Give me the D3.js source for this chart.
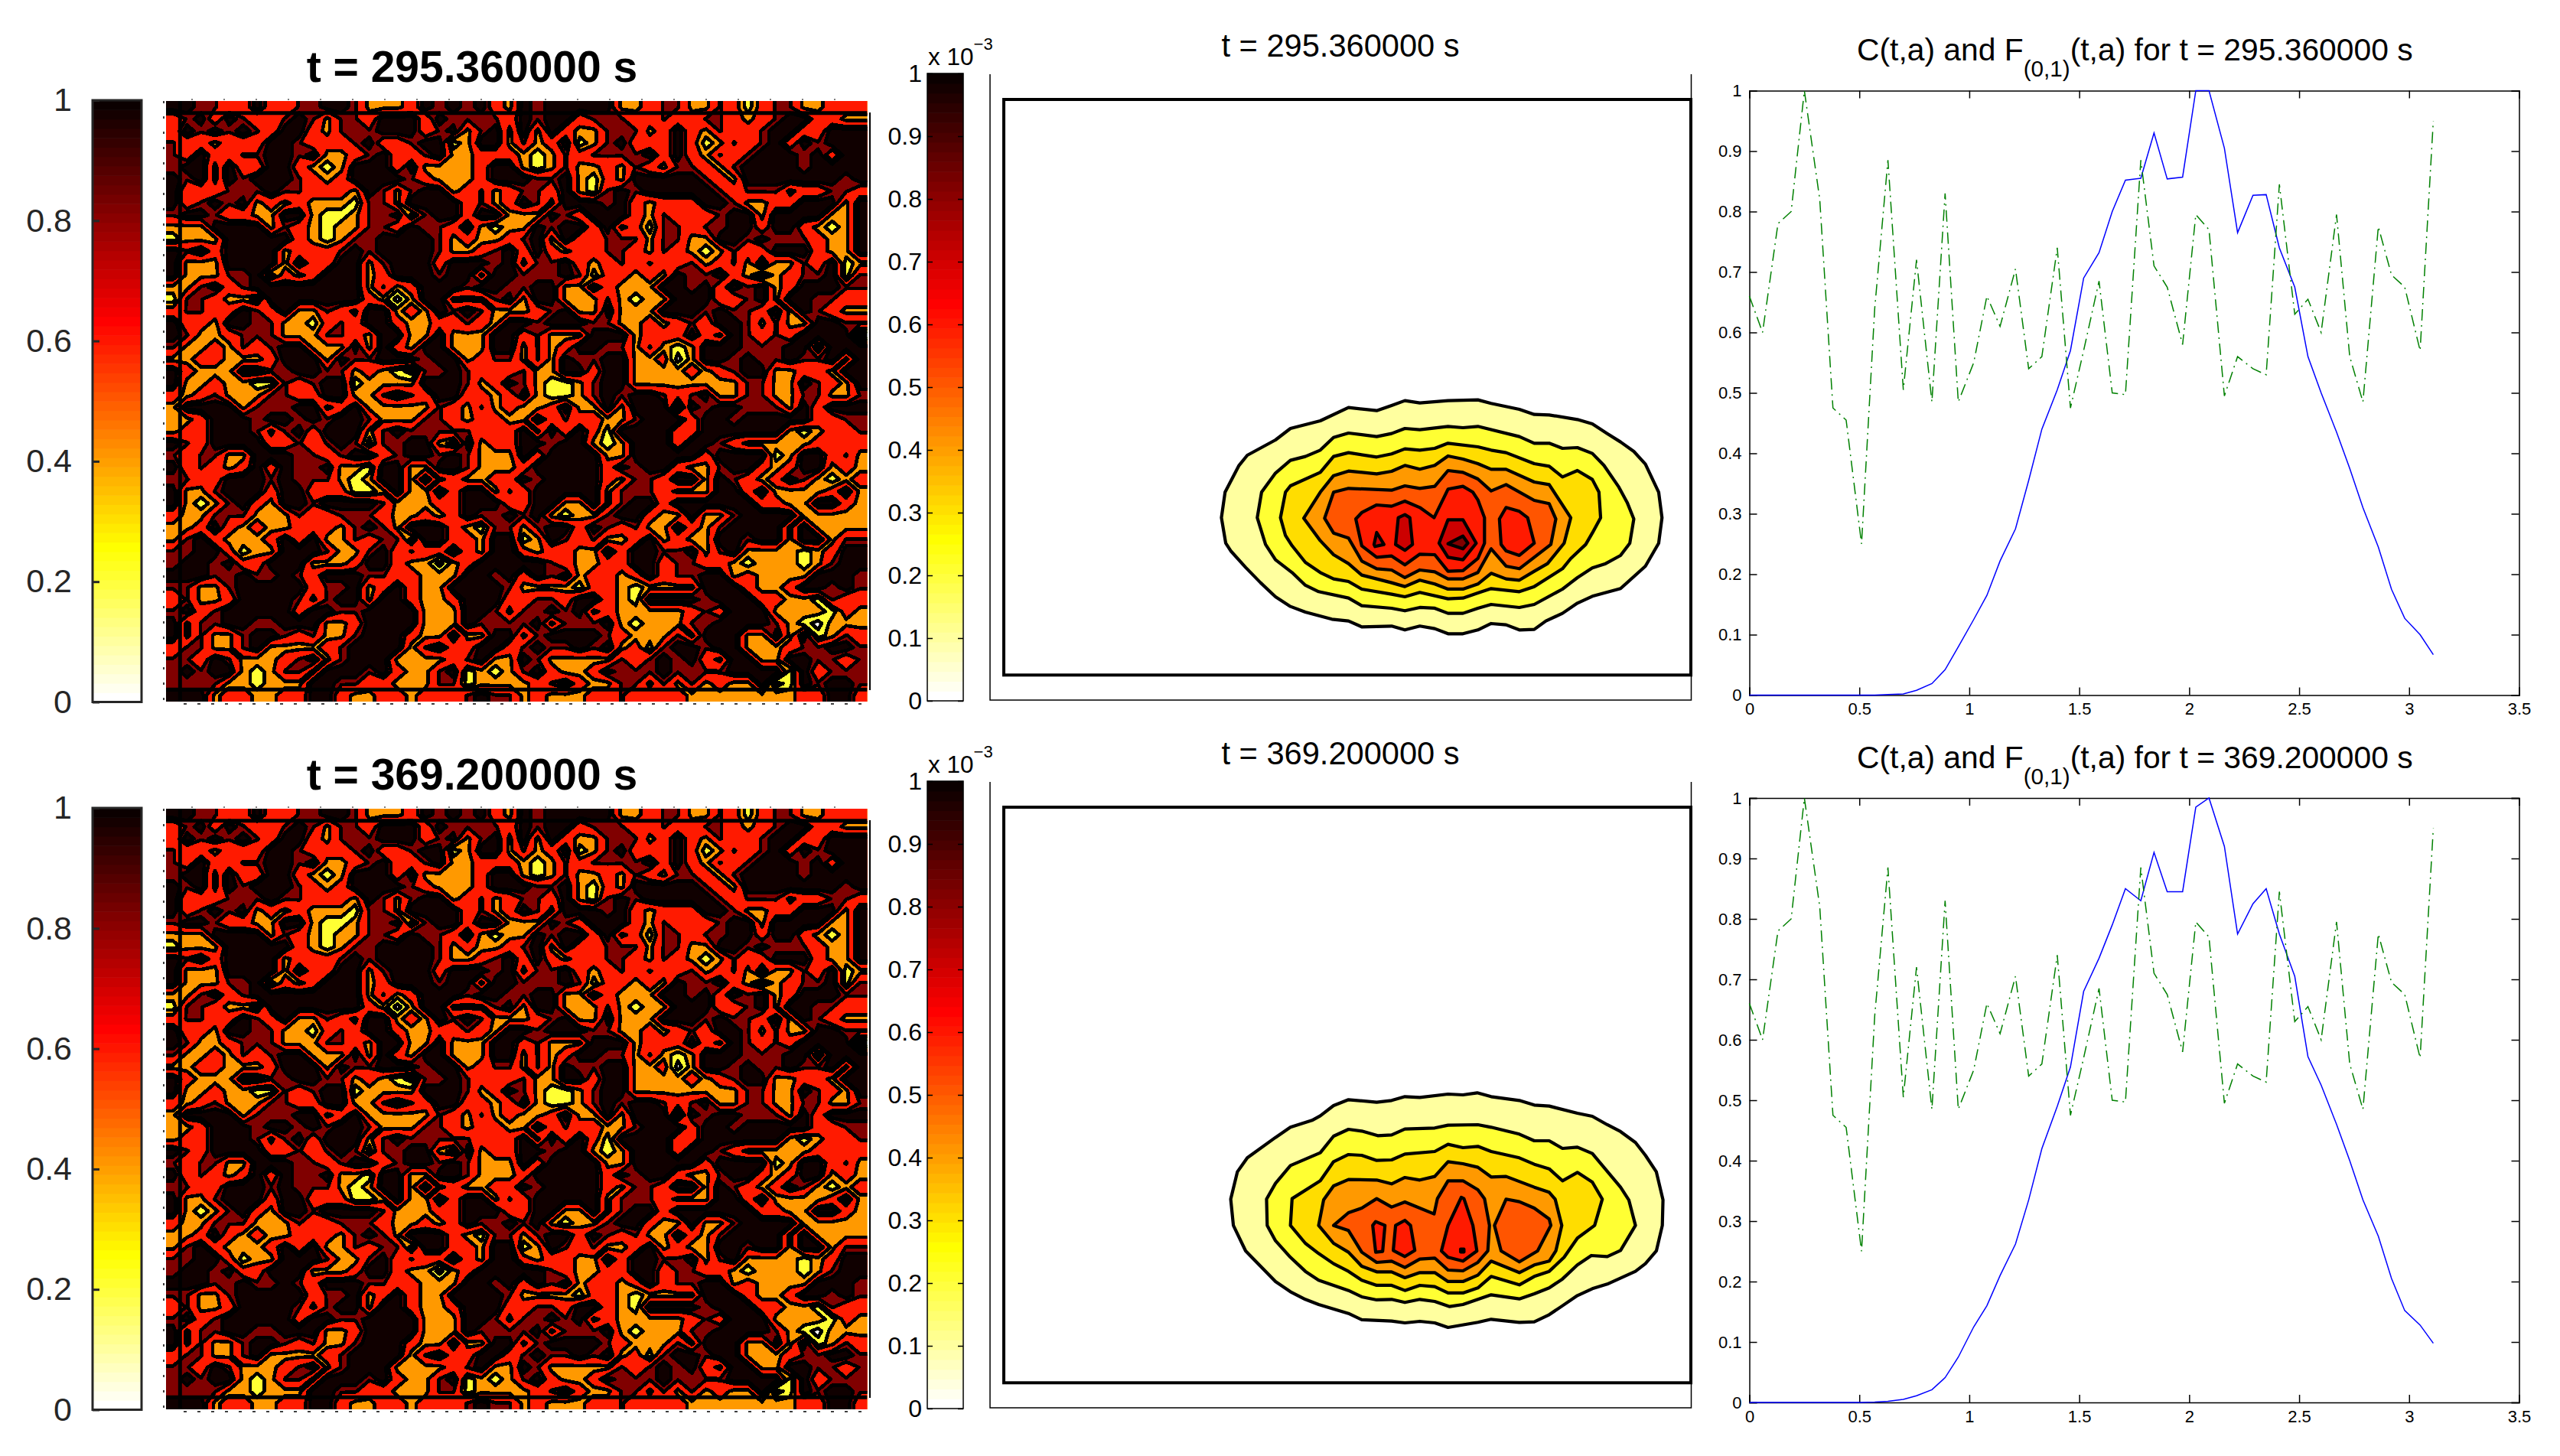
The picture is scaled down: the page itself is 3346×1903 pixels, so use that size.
<!DOCTYPE html>
<html><head><meta charset="utf-8">
<script src="https://cdn.jsdelivr.net/npm/d3@7"></script>
<style>
html,body{margin:0;padding:0;background:#fff}
svg{display:block}
text{font-family:"Liberation Sans",Arial,sans-serif}
</style></head><body>
<svg id="fig" width="3346" height="1903" xmlns="http://www.w3.org/2000/svg"></svg>
<script>
// ---------- data ----------
const timesLabel = ["295.360000", "369.200000"];
const colorbarTicksCoarse = [0, 0.2, 0.4, 0.6, 0.8, 1];
const colorbarTicksFine = [0, 0.1, 0.2, 0.3, 0.4, 0.5, 0.6, 0.7, 0.8, 0.9, 1];
const lineXTicks = [0, 0.5, 1, 1.5, 2, 2.5, 3, 3.5];
const lineYTicks = [0, 0.1, 0.2, 0.3, 0.4, 0.5, 0.6, 0.7, 0.8, 0.9, 1];

const ages = [0.00,0.06,0.13,0.19,0.25,0.32,0.38,0.44,0.51,0.57,0.63,0.70,0.76,0.83,0.89,0.95,1.02,1.08,1.14,1.21,1.27,1.33,1.40,1.46,1.52,1.59,1.65,1.71,1.78,1.84,1.90,1.97,2.03,2.09,2.16,2.22,2.29,2.35,2.41,2.48,2.54,2.60,2.67,2.73,2.79,2.86,2.92,2.98,3.05,3.11];
const seriesF = [0.66,0.60,0.78,0.80,1.00,0.82,0.475,0.455,0.25,0.64,0.885,0.505,0.72,0.485,0.83,0.485,0.55,0.66,0.61,0.705,0.54,0.56,0.74,0.475,0.57,0.685,0.50,0.497,0.885,0.71,0.675,0.58,0.795,0.77,0.495,0.56,0.54,0.53,0.845,0.63,0.655,0.60,0.795,0.56,0.485,0.775,0.695,0.675,0.57,0.95];
const seriesC295 = [0,0,0,0,0,0,0,0,0,0,0.001,0.002,0.008,0.019,0.042,0.08,0.125,0.165,0.222,0.275,0.355,0.44,0.505,0.57,0.69,0.732,0.80,0.852,0.855,0.93,0.854,0.857,1.0,1.0,0.905,0.765,0.827,0.828,0.74,0.675,0.56,0.50,0.435,0.375,0.31,0.245,0.175,0.127,0.10,0.067];
const seriesC369 = [0,0,0,0,0,0,0,0,0,0.0005,0.002,0.005,0.011,0.021,0.041,0.075,0.125,0.16,0.21,0.262,0.335,0.42,0.49,0.555,0.68,0.735,0.79,0.85,0.83,0.91,0.845,0.845,0.985,1.0,0.92,0.775,0.825,0.85,0.775,0.705,0.572,0.525,0.46,0.40,0.335,0.275,0.205,0.152,0.128,0.098];

// band index per grid node (1 lowest .. 6 highest), read row by row
const noiseRows = [
"6655446445566533346565643"+"6566666334553354245533444",
"4564654456535546664655554"+"6566455544544554345664433",
"4656565466435556664563563"+"6364335553464354456644666",
"5443444665444564456623663"+"5346235644464235456465666",
"5464455665633456445633444"+"3235455556464354566656466",
"5663644664323666463333466"+"3235334354355435666656666",
"6563656665434666654333466"+"6556324366666543666666656",
"6444555655444365356634534"+"5546325656666654555344554",
"6456563434333255366664534"+"6536665643444665334466636",
"5665443366322355625664663"+"3365466643544456636666336",
"3336666354323355465546323"+"3656646342554556646643236",
"2333666664323556666534334"+"5636445553553366565554336",
"6564666634445656666533456"+"4643445543543235446664336",
"6333666636446635666466656"+"3556434545445345363354623",
"6333556243466634666566366"+"5556524434365564313455625",
"3356456666666635346665665"+"5663364333665646563466655",
"2554332666666643136633356"+"3663335323366644563665544",
"4554465463354366343656533"+"3456336333666565546365433",
"6443665533245466433445436"+"6566655334345466535336655",
"6533455533355436633633366"+"4533366634446436545466661",
"5334354566333636436633366"+"3534665535323666555662666",
"3344333466636556665663455"+"3536556633413665655655636",
"6433366556655343215565444"+"5336646633334345663344366",
"6334332254566233336665346"+"5322356633333333553365436",
"4345333554466335654664434"+"6322356566545633553355335",
"3666635556634633333543534"+"3346336366616566555364666",
"3346665665656653335543443"+"3645443356664665666664455",
"3446665356466635655555444"+"6364642666644666666323445",
"6546666445456525566326344"+"6656632366646654333334444",
"5455336665545664566565333"+"6466663366666466662366453",
"6454346465563326633665333"+"4666664656643356643466343",
"5544666565553236636343344"+"6566664355466365434653234",
"6335666466444223633646635"+"4666663555433366463333463",
"6323564366566665333446664"+"4663363566466666644336643",
"4335553335445554334346556"+"5632335664336335666633333",
"3346434334443565366643255"+"3566465453364356666363333",
"3564333464633545526644366"+"2365453346343366566366355",
"5566423366653356454464366"+"4344336466556356333323466",
"5665644666333466433134666"+"6654334466455443233323566",
"6665565565466655443336656"+"4656344346455663433336665",
"5533566666455634643366665"+"3333244323333666433466565",
"4533466665356636643346664"+"4554664326666566644332544",
"5645666664665566663336653"+"5565634333334546663333243",
"6355665566633466663336555"+"5635556323335566665321333",
"6353356654533566643363366"+"3566665433353666336362354",
"4553356333345666635644664"+"5655656342566566333455665",
"5546533345635666333345633"+"6533333545656436633665545",
"5656632355366656433562323"+"5643346555655556666264555",
"5555332333665544333552333"+"3456433553535343361265665",
"6663443344664334434445655"+"3433344544443333333344664"
];
const bandFills = ["#ffff33","#ff9900","#ff1a00","#800000","#100000"];
const bandThresholds = [1.5,2.5,3.35,4.9,5.5];
const gridStrips = [1,49];

// contour outlines: [a, h] in the blob plot's own axis units, per level
const levelFills = ["#ffff9f","#ffff33","#ffdd00","#ff9900","#ff5500","#ff1a00","#cc0000","#800000"];
const blobDomainX = [-549,1522];
const blobDomainY = [-1050,1207];
const levels295 = [
 [[[660,131],[705,140],[790,131],[880,128],[920,142],[1005,165],[1050,185],[1095,187],[1180,205],[1225,222],[1270,260],[1310,293],[1350,330],[1385,380],[1425,490],[1435,590],[1425,690],[1385,780],[1310,868],[1225,898],[1180,925],[1135,965],[1085,995],[1050,1028],[1005,1030],[965,1010],[920,1005],[880,1030],[835,1045],[790,1045],[750,1025],[705,1015],[660,1030],[620,1015],[530,1018],[490,995],[440,988],[360,960],[315,938],[270,900],[225,845],[180,785],[135,720],[120,690],[107,590],[118,490],[160,385],[185,345],[270,285],[315,240],[405,210],[490,158],[575,170],[620,150]]],
 [[[660,240],[705,245],[790,232],[835,237],[880,232],[1005,272],[1050,298],[1095,298],[1135,318],[1180,315],[1225,338],[1260,385],[1305,470],[1330,530],[1350,595],[1338,690],[1310,738],[1265,770],[1225,787],[1180,825],[1135,870],[1050,930],[1005,942],[920,930],[880,945],[835,965],[790,965],[750,945],[705,942],[660,955],[620,945],[530,935],[490,905],[400,880],[360,855],[320,805],[270,755],[240,695],[215,590],[228,490],[270,415],[315,365],[360,350],[405,325],[445,275],[490,258],[575,272],[620,260]]],
 [[[660,320],[705,325],[750,318],[790,298],[880,312],[920,325],[965,335],[1050,378],[1095,388],[1135,430],[1180,405],[1225,440],[1245,490],[1250,590],[1225,650],[1205,695],[1160,750],[1135,790],[1050,860],[1005,880],[920,868],[880,885],[835,905],[790,908],[705,883],[660,900],[620,890],[530,870],[490,840],[445,830],[405,805],[360,765],[320,700],[300,660],[285,590],[300,490],[315,465],[405,412],[445,350],[490,335],[575,352],[620,340]]],
 [[[660,385],[705,400],[750,385],[790,348],[835,360],[880,378],[920,400],[965,400],[1050,450],[1095,460],[1130,530],[1160,590],[1140,690],[1090,770],[1050,800],[1005,835],[965,830],[920,808],[880,850],[835,870],[790,870],[750,850],[705,835],[660,860],[620,845],[530,815],[490,770],[445,735],[405,680],[355,592],[405,490],[445,425],[490,407],[575,418],[620,408]]],
 [[[445,490],[490,475],[620,482],[660,465],[705,475],[750,467],[790,405],[835,412],[880,438],[920,485],[965,460],[1050,522],[1095,535],[1115,595],[1100,695],[1050,745],[1005,790],[965,780],[920,712],[880,805],[835,830],[790,830],[750,802],[705,795],[660,825],[620,795],[575,790],[530,760],[490,670],[445,650],[418,592]]],
 [[[575,540],[620,545],[660,525],[705,550],[748,590],[790,478],[835,467],[865,490],[880,520],[900,590],[900,690],[880,750],[835,798],[790,800],[750,735],[705,733],[660,775],[620,740],[575,745],[530,700],[512,595],[530,570]],
  [[965,550],[1005,565],[1030,590],[1050,690],[1005,738],[965,720],[950,695],[945,595]]],
 [[[575,648],[597,695],[570,703],[567,695]],
  [[660,578],[675,590],[683,695],[660,718],[632,695],[640,590]],
  [[790,598],[835,598],[875,690],[835,755],[790,745],[763,690]]],
 [[[835,662],[850,690],[835,712],[790,692]]]
];
const levels369 = [
 [[[660,85],[705,88],[790,75],[835,78],[878,70],[920,85],[1005,100],[1050,118],[1095,122],[1180,150],[1225,162],[1270,195],[1310,222],[1355,265],[1385,315],[1418,380],[1438,490],[1436,590],[1418,690],[1385,740],[1355,770],[1270,820],[1225,838],[1180,865],[1135,905],[1095,940],[1050,968],[1005,970],[920,958],[880,970],[790,990],[750,972],[705,966],[660,972],[620,965],[530,960],[490,935],[400,900],[360,880],[315,850],[270,810],[225,750],[180,690],[143,590],[135,487],[155,380],[185,325],[270,245],[315,205],[380,178],[405,160],[445,120],[490,97],[575,107],[620,100]]],
 [[[660,212],[750,208],[790,197],[880,195],[920,205],[1005,232],[1050,258],[1095,258],[1135,288],[1180,283],[1225,308],[1310,440],[1335,490],[1355,590],[1310,688],[1270,712],[1222,708],[1180,745],[1135,800],[1095,835],[1050,858],[1005,878],[920,862],[880,880],[835,900],[795,908],[750,888],[705,880],[660,892],[620,880],[575,882],[530,870],[490,845],[400,805],[360,770],[315,715],[270,650],[245,590],[243,487],[270,425],[315,355],[405,305],[445,240],[490,213],[530,220],[578,238],[620,235]]],
 [[[660,310],[750,300],[790,272],[835,285],[880,280],[920,300],[1005,325],[1050,350],[1095,368],[1135,415],[1180,382],[1225,420],[1255,487],[1232,590],[1180,640],[1140,715],[1095,770],[1050,790],[1005,823],[920,790],[880,835],[835,855],[790,855],[750,830],[705,825],[660,845],[620,825],[575,825],[530,805],[490,770],[445,740],[400,700],[360,660],[315,590],[320,485],[405,415],[445,340],[490,312],[530,315],[575,335],[620,333]]],
 [[[660,402],[705,412],[750,398],[790,340],[835,348],[880,362],[920,400],[965,398],[1050,440],[1095,460],[1113,487],[1133,590],[1115,690],[1095,730],[1050,745],[1005,775],[920,730],[880,785],[835,810],[790,810],[750,775],[705,775],[660,795],[620,772],[575,772],[530,750],[490,695],[445,660],[400,590],[415,490],[445,435],[490,410],[575,412],[620,427]]],
 [[[575,485],[620,518],[660,498],[748,545],[758,485],[790,415],[835,415],[880,450],[900,485],[915,590],[910,690],[880,735],[835,768],[790,765],[750,718],[705,722],[660,755],[620,730],[575,735],[530,695],[490,610],[445,590],[490,540],[530,522]],
  [[965,487],[1005,497],[1050,522],[1095,565],[1100,590],[1060,690],[1005,733],[950,690],[930,590]]],
 [[[572,575],[600,590],[593,692],[572,695],[563,590]],
  [[660,570],[677,590],[690,688],[660,712],[625,688],[632,590]],
  [[830,480],[838,485],[865,590],[877,690],[835,730],[790,715],[770,690],[790,590]]],
 [[[828,683],[838,683],[838,694],[828,694]]]
];

// ---------- helpers ----------
const svg = d3.select("#fig");
const rowOffsets = [0, 925];
const FONT_STROKE = "#262626";

function hotReversed(f){            // flipud(hot(64)) colour lookup
  const i = Math.min(63, Math.floor((1-f)*64));
  const r = i<24 ? (i+1)/24 : 1;
  const g = i<24 ? 0 : (i<48 ? (i-23)/24 : 1);
  const b = i<48 ? 0 : (i-47)/16;
  return d3.rgb(r*255,g*255,b*255).toString();
}
function colorbar(g, box, ticks, opts){
  const y = d3.scaleLinear().domain([0,1]).range([box.y1, box.y0]);
  const steps = d3.range(64);
  g.selectAll("rect.cb").data(steps).join("rect").attr("class","cb")
    .attr("x",box.x0).attr("width",box.x1-box.x0)
    .attr("y",d=>y((d+1)/64)).attr("height",d=>y(d/64)-y((d+1)/64)+0.6)
    .attr("fill",d=>hotReversed((d+0.5)/64));
  g.append("rect").attr("x",box.x0).attr("y",box.y0).attr("width",box.x1-box.x0).attr("height",box.y1-box.y0)
    .attr("fill","none").attr("stroke",opts.stroke).attr("stroke-width",opts.sw);
  const ax = g.append("g").attr("transform",`translate(${box.x0},0)`)
    .call(d3.axisLeft(y).tickValues(ticks).tickFormat(d=>String(d)).tickSize(-opts.tick).tickPadding(opts.pad));
  ax.select(".domain").remove();
  ax.selectAll("line").attr("stroke",opts.stroke).attr("stroke-width",opts.sw);
  ax.selectAll("text").attr("font-size",opts.font).attr("font-family","Liberation Sans").attr("fill",opts.fill);
  if(opts.rightTicks){
    const ax2 = g.append("g").attr("transform",`translate(${box.x1},0)`)
      .call(d3.axisRight(y).tickValues(ticks).tickFormat("").tickSize(-opts.tick));
    ax2.select(".domain").remove();
    ax2.selectAll("line").attr("stroke",opts.stroke).attr("stroke-width",opts.sw);
  }
}

// noise matrix (padded by one node so outer contour edges fall outside the clip)
const N = 50;
function noiseValues(){
  const P = N+2, v = new Array(P*P);
  for(let i=0;i<P;i++)for(let j=0;j<P;j++){
    const r = Math.min(N-1,Math.max(0,i-1)), c = Math.min(N-1,Math.max(0,j-1));
    const ch = +noiseRows[r][c];
    v[i*P+j] = ch>0 ? ch : 5;
  }
  return {P,v};
}
const noise = noiseValues();
const noiseContours = d3.contours().size([noise.P,noise.P]).thresholds(bandThresholds).smooth(true)(noise.v);

// ---------- draw rows ----------
rowOffsets.forEach((dy,row)=>{
  const g = svg.append("g").attr("transform",`translate(0,${dy})`);
  const T = timesLabel[row];

  // --- panel 1 ---
  colorbar(g.append("g"),{x0:121,x1:185,y0:131,y1:917.5},colorbarTicksCoarse,
    {stroke:FONT_STROKE,sw:3,tick:9,pad:27,font:43,fill:FONT_STROKE,rightTicks:false});
  g.append("text").attr("x",617).attr("y",107).attr("text-anchor","middle")
    .attr("font-size",57).attr("font-weight","bold").text(`t = ${T} s`);
  const hx = d3.scaleLinear().domain([1,N+1]).range([217,1133.5]);
  const hy = d3.scaleLinear().domain([1,N+1]).range([132,917]);
  const clipId = "hc"+row;
  g.append("clipPath").attr("id",clipId).append("rect").attr("x",217).attr("y",132).attr("width",916.5).attr("height",785);
  const hg = g.append("g").attr("clip-path",`url(#${clipId})`);
  hg.append("rect").attr("x",217).attr("y",132).attr("width",916.5).attr("height",785).attr("fill","#fff");
  const path = d3.geoPath(d3.geoTransform({point(x,y){this.stream.point(hx(x),hy(y));}}));
  hg.selectAll("path").data(noiseContours).join("path")
    .attr("d",path).attr("fill",(d,i)=>bandFills[i]).attr("stroke","#000").attr("stroke-width",4.6)
    .attr("stroke-linejoin","round").attr("shape-rendering","crispEdges");
  // strip edges of the grid
  gridStrips.forEach(s=>{
    hg.append("line").attr("x1",217).attr("x2",1133.5).attr("y1",hy(s+1)).attr("y2",hy(s+1)).attr("stroke","#000").attr("stroke-width",5);
  });
  hg.append("line").attr("x1",hx(gridStrips[0]+1)).attr("x2",hx(gridStrips[0]+1)).attr("y1",132).attr("y2",917).attr("stroke","#000").attr("stroke-width",5);
  g.append("line").attr("x1",1137).attr("x2",1137).attr("y1",147).attr("y2",902).attr("stroke","#000").attr("stroke-width",2);
  g.append("line").attr("x1",214).attr("x2",214).attr("y1",132).attr("y2",917).attr("stroke","#000").attr("stroke-width",1.5).attr("stroke-dasharray","3 17");
  g.append("line").attr("x1",240).attr("x2",1130).attr("y1",920).attr("y2",920).attr("stroke","#000").attr("stroke-width",1.5).attr("stroke-dasharray","4 14");
  g.append("line").attr("x1",250).attr("x2",1130).attr("y1",130).attr("y2",130).attr("stroke","#000").attr("stroke-width",1).attr("stroke-dasharray","2 40");

  // --- panel 2 ---
  colorbar(g.append("g"),{x0:1212,x1:1259,y0:96,y1:916},colorbarTicksFine,
    {stroke:"#000",sw:1.5,tick:7,pad:7,font:32,fill:"#000",rightTicks:true});
  const sci = g.append("text").attr("x",1213).attr("y",85).attr("font-size",31.5);
  sci.append("tspan").text("x 10");
  sci.append("tspan").attr("dy",-20).attr("font-size",22).text("\u22123");
  g.append("text").attr("x",1752).attr("y",74).attr("text-anchor","middle").attr("font-size",41.6).text(`t = ${T} s`);
  g.append("path").attr("d","M1294,97V915H2210.5V97").attr("fill","none").attr("stroke","#000").attr("stroke-width",1.5);
  const bx = d3.scaleLinear().domain(blobDomainX).range([1312,2210]);
  const by = d3.scaleLinear().domain(blobDomainY).range([130,882.3]);
  const ring = d3.line().x(d=>bx(d[0])).y(d=>by(d[1])).curve(d3.curveLinearClosed);
  g.append("rect").attr("x",bx(blobDomainX[0])).attr("y",by(blobDomainY[0]))
    .attr("width",bx(blobDomainX[1])-bx(blobDomainX[0])).attr("height",by(blobDomainY[1])-by(blobDomainY[0]))
    .attr("fill","none").attr("stroke","#000").attr("stroke-width",4);
  const levels = row===0?levels295:levels369;
  levels.forEach((rings,li)=>{
    g.selectAll(null).data(rings).join("path").attr("d",ring)
      .attr("fill",levelFills[li]).attr("stroke","#000").attr("stroke-width",4.2).attr("stroke-linejoin","round");
  });

  // --- panel 3 ---
  const lx = d3.scaleLinear().domain([0,3.5]).range([2286.5,3292.5]);
  const ly = d3.scaleLinear().domain([0,1]).range([908.5,118.5]);
  const lg = g.append("g").attr("transform",`translate(0,${-row*0.5})`);
  const bottom = lg.append("g").attr("transform",`translate(0,${ly(0)})`).call(d3.axisBottom(lx).tickValues(lineXTicks).tickFormat(d=>String(d)).tickSize(-10).tickPadding(10));
  const top = lg.append("g").attr("transform",`translate(0,${ly(1)})`).call(d3.axisTop(lx).tickValues(lineXTicks).tickFormat("").tickSize(-10));
  const left = lg.append("g").attr("transform",`translate(${lx(0)},0)`).call(d3.axisLeft(ly).tickValues(lineYTicks).tickFormat(d=>String(d)).tickSize(-10).tickPadding(10));
  const right = lg.append("g").attr("transform",`translate(${lx(3.5)},0)`).call(d3.axisRight(ly).tickValues(lineYTicks).tickFormat("").tickSize(-10));
  [bottom,top,left,right].forEach(a=>{
    a.select(".domain").attr("stroke","#000").attr("stroke-width",1.5);
    a.selectAll("line").attr("stroke","#000").attr("stroke-width",1.5);
    a.selectAll("text").attr("font-size",22).attr("font-family","Liberation Sans").attr("fill","#000");
  });
  const lineGen = d3.line().x((d,i)=>lx(ages[i])).y(d=>ly(d));
  lg.append("path").attr("d",lineGen(row===0?seriesC295:seriesC369)).attr("fill","none").attr("stroke","#0000ff").attr("stroke-width",1.5);
  lg.append("path").attr("d",lineGen(seriesF)).attr("fill","none").attr("stroke","#008000").attr("stroke-width",1.5).attr("stroke-dasharray","15 6 2 6");
  const t3 = lg.append("text").attr("x",2427).attr("y",79).attr("font-size",40.8);
  t3.append("tspan").text("C(t,a) and F");
  t3.append("tspan").attr("dy",21).attr("font-size",29.7).text("(0,1)");
  t3.append("tspan").attr("dy",-21).text(`(t,a) for t = ${T} s`);
});
</script>
</body></html>
